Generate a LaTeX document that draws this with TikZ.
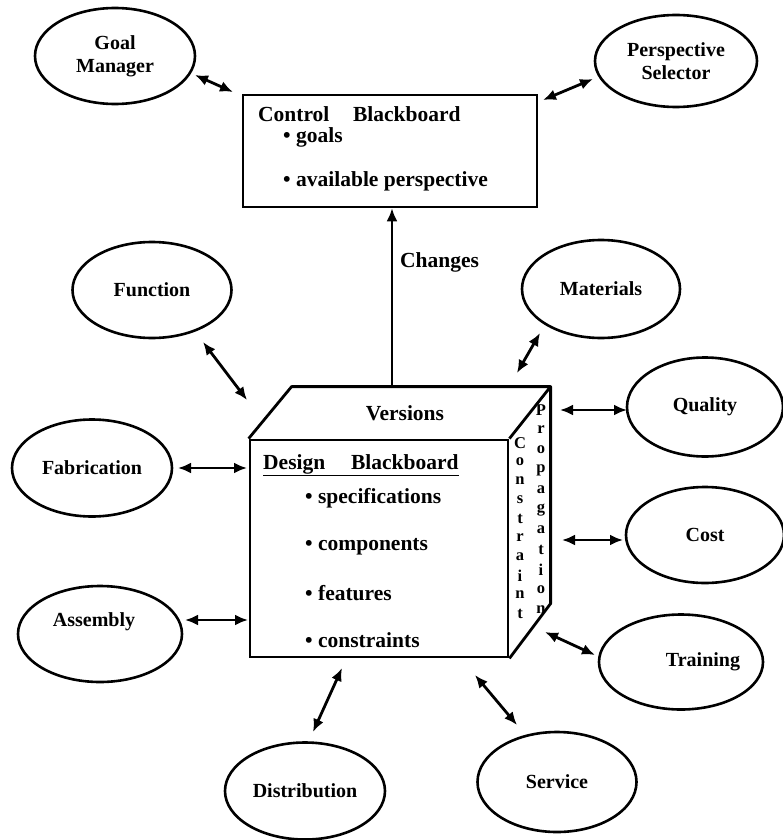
\documentclass[tikz,border=0pt]{standalone}
\usepackage{fontspec}
\setmainfont{Liberation Serif}
\usetikzlibrary{arrows.meta,shapes.geometric}
\begin{document}
\begin{tikzpicture}[x=1pt,y=-1pt,
  oval/.style={draw, ellipse, line width=2.6pt, inner sep=0pt, align=center,
    font=\bfseries\fontsize{20}{23}\selectfont},
  lbl/.style={inner sep=0pt, font=\bfseries\fontsize{20}{23}\selectfont},
  blbl/.style={inner sep=0pt, font=\bfseries\fontsize{21.5}{24}\selectfont},
  vlet/.style={inner sep=0pt, font=\bfseries\fontsize{16.5}{18}\selectfont},
  dbl/.style={{Latex[length=13pt,width=11pt]}-{Latex[length=13pt,width=11pt]}, line width=2.8pt},
  sgl/.style={-{Latex[length=13pt,width=11pt]}, line width=2.4pt},
  edge/.style={line width=2.8pt, line join=round}]
\useasboundingbox (0,0) rectangle (782,840);

% control blackboard
\node[draw, line width=2.6pt, minimum width=294pt, minimum height=112pt, inner sep=0pt] (cb) at (390,151) {};
\node[blbl, anchor=west] (cbt) at (258,114) {Control\hspace{1.1em}Blackboard};
\node[blbl, anchor=west] (cb1) at (283,137) {\textbullet\ goals};
\node[blbl, anchor=west] (cb2) at (283,181) {\textbullet\ available perspective};

% design blackboard cube
\node[draw, line width=2.8pt, minimum width=258pt, minimum height=217pt, inner sep=0pt] (db) at (379,548.5) {};
\draw[edge] (db.north west) -- ++(43,-52) coordinate (tbl) -- ++(259,0) coordinate (tbr) -- (db.north east);
\draw[edge] (tbr) -- ++(0,217) coordinate (rbb) -- (db.south east);
\node[blbl] (ver) at (405,413) {Versions};
\node[blbl, anchor=west] (dbt) at (263,465) {\underline{Design\hspace{1.2em}Blackboard}};
\node[blbl, anchor=west] (d1) at (305,498) {\textbullet\ specifications};
\node[blbl, anchor=west] (d2) at (305,547) {\textbullet\ components};
\node[blbl, anchor=west] (d3) at (305,593) {\textbullet\ features};
\node[blbl, anchor=west] (d4) at (305,640) {\textbullet\ constraints};
\foreach \l [count=\i from 0] in {C,o,n,s,t,r,a,i,n,t}
  \node[vlet] (cl\i) at (520,443+19*\i) {\l};
\foreach \l [count=\i from 0] in {P,r,o,p,a,g,a,t,i,o,n}
  \node[vlet] (pl\i) at (541,410+20*\i) {\l};

% changes
\coordinate (chs) at (392,388);
\draw[sgl] (chs) -- (cb.south -| chs);
\node[blbl, anchor=west] (chg) at (400,262) {Changes};

% ellipses
\node[oval, minimum width=160pt, minimum height=96pt] (gm) at (115,56) {Goal\\Manager};
\node[oval, minimum width=162pt, minimum height=92pt] (ps) at (676,61) {Perspective\\Selector};
\node[oval, minimum width=159pt, minimum height=96pt] (fn) at (152,290) {Function};
\node[oval, minimum width=158pt, minimum height=98pt] (mat) at (601,289) {Materials};
\node[oval, minimum width=156pt, minimum height=99pt] (qual) at (705,407) {Quality};
\node[oval, minimum width=160pt, minimum height=97pt] (fab) at (92,468) {Fabrication};
\node[oval, minimum width=158pt, minimum height=96pt] (cost) at (705,535) {Cost};
\node[oval, minimum width=164pt, minimum height=96pt] (asm) at (100,634) {};
\node[lbl] (asmt) at (94,622) {Assembly};
\node[oval, minimum width=164pt, minimum height=95pt] (trn) at (681,662) {};
\node[lbl] (trnt) at (703,662) {Training};
\node[oval, minimum width=160pt, minimum height=97pt] (dist) at (305,791) {Distribution};
\node[oval, minimum width=159pt, minimum height=100pt] (serv) at (557,782) {Service};

% connector end points
\coordinate (gm-e) at (195,75);   \coordinate (cb-gm) at (233,92);
\coordinate (ps-e) at (593,79);   \coordinate (cb-ps) at (543,100);
\coordinate (fn-e) at (203,342);  \coordinate (db-fn) at (247,400);
\coordinate (mat-e) at (540,333); \coordinate (db-mat) at (517,373);
\coordinate (qual-e) at (627,410);\coordinate (db-qual) at (560,410);
\coordinate (fab-e) at (178,468); \coordinate (db-fab) at (247,468);
\coordinate (cost-e) at (623,540);\coordinate (db-cost) at (562,540);
\coordinate (asm-e) at (185,620); \coordinate (db-asm) at (248,620);
\coordinate (trn-e) at (595,655); \coordinate (db-trn) at (545,632);
\coordinate (dist-e) at (313,732);\coordinate (db-dist) at (342,668);
\coordinate (serv-e) at (517,725);\coordinate (db-serv) at (475,675);

\draw[dbl] (gm-e) -- (cb-gm);
\draw[dbl] (cb-ps) -- (ps-e);
\draw[dbl] (fn-e) -- (db-fn);
\draw[dbl] (mat-e) -- (db-mat);
\draw[dbl] (db-qual) -- (qual-e);
\draw[dbl] (fab-e) -- (db-fab);
\draw[dbl] (db-cost) -- (cost-e);
\draw[dbl] (asm-e) -- (db-asm);
\draw[dbl] (db-trn) -- (trn-e);
\draw[dbl] (dist-e) -- (db-dist);
\draw[dbl] (db-serv) -- (serv-e);
\end{tikzpicture}
\end{document}
